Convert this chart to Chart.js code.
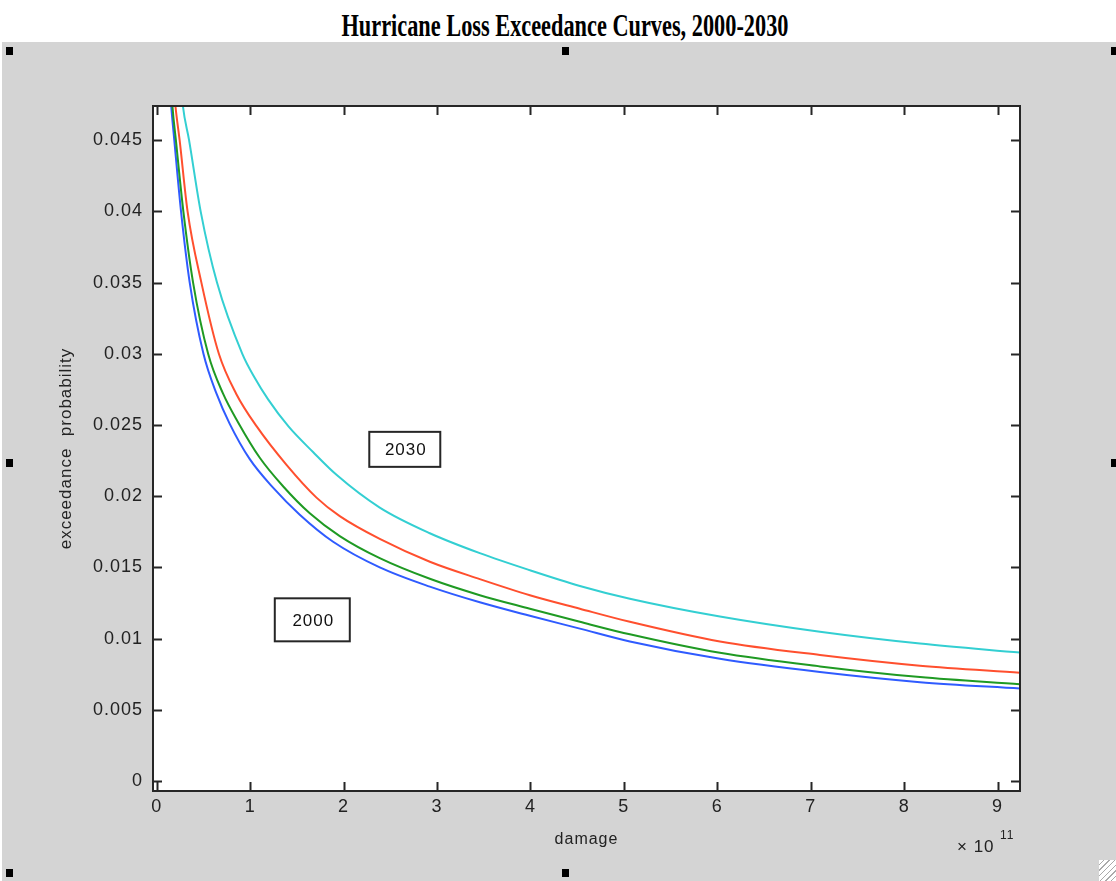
<!DOCTYPE html>
<html>
<head>
<meta charset="utf-8">
<script src="https://cdn.jsdelivr.net/npm/chart.js@4/dist/chart.umd.min.js"></script>
<style>
    html, body { margin: 0; padding: 0; background: #fff; }
    #wrap { position: relative; width: 1116px; height: 881px; overflow: hidden; }
    #panel { position: absolute; left: 2px; top: 42px; right: 0; bottom: 0; background: #d4d4d4; }
    #title { position: absolute; left: 0; top: 8px; width: 1116px; margin: 0; text-align: center;
             font: bold 31px "Liberation Serif", "Times New Roman", serif; color: #000;
             transform: translateX(7px) scaleX(0.72); }
    .handle { position: absolute; width: 7px; height: 8px; background: #000; }
    #grip { position: absolute; left: 1099px; top: 860px; width: 17px; height: 21px; background: #fff;
            background-image: repeating-linear-gradient(135deg, #fff 0 3px, #aaa 3px 4px); }
    canvas { position: absolute; left: 0; top: 0; }
</style>
</head>
<body>
<div id="wrap">
    <div id="panel"></div>
    <h1 id="title">Hurricane Loss Exceedance Curves, 2000-2030</h1>
    <div class="handle" style="left:6px;top:47px"></div>
    <div class="handle" style="left:562px;top:47px"></div>
    <div class="handle" style="left:1111px;top:47px"></div>
    <div class="handle" style="left:6px;top:459px"></div>
    <div class="handle" style="left:1111px;top:459px"></div>
    <div class="handle" style="left:6px;top:869px"></div>
    <div class="handle" style="left:562px;top:869px"></div>
    <div id="grip"></div>
    <canvas id="lossChart" width="1116" height="881"></canvas>
</div>
<script>
// tick labels
const xTicks = [0, 1, 2, 3, 4, 5, 6, 7, 8, 9];
const yTicks = [0, 0.005, 0.01, 0.015, 0.02, 0.025, 0.03, 0.035, 0.04, 0.045];

// damage (x 10^11) / exceedance probability
const dmg2000 = [0.12, 0.155, 0.188, 0.26, 0.353, 0.50, 0.64, 0.78, 0.996, 1.245, 1.531, 1.888, 2.387, 2.923, 3.458, 3.994, 4.529, 5.064, 6.028, 7.099, 8.169, 9.24];
const prob2000 = [0.051, 0.0474, 0.045, 0.040, 0.035, 0.030, 0.0272, 0.0251, 0.0226, 0.0206, 0.0187, 0.0168, 0.0150, 0.01365, 0.01255, 0.01160, 0.0107, 0.0098, 0.00858, 0.00765, 0.00694, 0.00649];

const dmg2010 = [0.12, 0.168, 0.205, 0.285, 0.389, 0.55, 0.71, 0.87, 1.103, 1.352, 1.638, 1.959, 2.387, 2.923, 3.458, 3.994, 4.529, 5.064, 6.028, 7.099, 8.169, 9.24];
const prob2010 = [0.053, 0.0474, 0.045, 0.040, 0.035, 0.030, 0.0272, 0.0252, 0.0227, 0.0207, 0.0188, 0.0172, 0.01565, 0.01420, 0.01305, 0.01210, 0.01118, 0.01030, 0.00900, 0.00805, 0.00730, 0.00679];

const dmg2020 = [0.14, 0.20, 0.245, 0.33, 0.478, 0.665, 0.85, 1.07, 1.389, 1.71, 1.959, 2.387, 2.923, 3.458, 3.994, 4.529, 5.064, 6.028, 7.099, 8.169, 9.24];
const prob2020 = [0.052, 0.0474, 0.045, 0.040, 0.035, 0.030, 0.0272, 0.0249, 0.0222, 0.0199, 0.0186, 0.0170, 0.01540, 0.01418, 0.01305, 0.01210, 0.01118, 0.00980, 0.00885, 0.00810, 0.00761];

const dmg2030 = [0.22, 0.28, 0.346, 0.47, 0.645, 0.916, 1.05, 1.192, 1.41, 1.673, 1.924, 2.387, 2.923, 3.458, 3.994, 4.529, 5.064, 6.028, 7.099, 8.169, 9.24];
const prob2030 = [0.052, 0.0474, 0.045, 0.040, 0.035, 0.030, 0.0283, 0.0268, 0.0249, 0.0231, 0.0215, 0.0192, 0.0174, 0.0160, 0.0148, 0.0137, 0.0128, 0.01155, 0.01048, 0.00965, 0.00902];

// text boxes placed in data coordinates
const boxLabels = ['2030', '2000'];
const boxDamage = [2.655, 1.665];
const boxProb = [0.02329, 0.01132];
const boxSize = [[71, 35], [75, 43]];

const toPoints = (xs, ys) => xs.map((x, i) => ({ x: x, y: ys[i] }));

const axisColor = '#262626';
const sans = "'Liberation Sans', Arial, sans-serif";
const tickFont = { family: sans, size: 18 };

const framePlugin = {
    id: 'frame',
    beforeDraw(chart) {
        const { ctx, chartArea: a } = chart;
        ctx.letterSpacing = '1px';
        ctx.save();
        ctx.fillStyle = '#fff';
        ctx.fillRect(a.left, a.top, a.right - a.left, a.bottom - a.top);
        ctx.restore();
    },
    afterDraw(chart) {
        const { ctx, chartArea: a, scales } = chart;
        ctx.save();
        ctx.strokeStyle = axisColor;
        ctx.lineWidth = 2;
        ctx.strokeRect(a.left, a.top, a.right - a.left, a.bottom - a.top);
        // inward ticks on all four sides
        ctx.beginPath();
        xTicks.forEach(v => {
            const px = Math.round(scales.x.getPixelForValue(v)) + 0.5;
            ctx.moveTo(px, a.bottom); ctx.lineTo(px, a.bottom - 9);
            ctx.moveTo(px, a.top); ctx.lineTo(px, a.top + 9);
        });
        yTicks.forEach(v => {
            const py = Math.round(scales.y.getPixelForValue(v)) + 0.5;
            ctx.moveTo(a.left, py); ctx.lineTo(a.left + 9, py);
            ctx.moveTo(a.right, py); ctx.lineTo(a.right - 9, py);
        });
        ctx.stroke();

        // labelled boxes
        ctx.font = '17px ' + sans;
        ctx.textAlign = 'center';
        ctx.textBaseline = 'middle';
        boxLabels.forEach((t, i) => {
            const cx = scales.x.getPixelForValue(boxDamage[i]);
            const cy = scales.y.getPixelForValue(boxProb[i]);
            const [w, h] = boxSize[i];
            ctx.fillStyle = '#fff';
            ctx.fillRect(cx - w / 2, cy - h / 2, w, h);
            ctx.strokeStyle = axisColor;
            ctx.lineWidth = 2;
            ctx.strokeRect(cx - w / 2, cy - h / 2, w, h);
            ctx.fillStyle = '#111';
            ctx.fillText(t, cx + 1, cy + 1);
        });

        // exponent note
        ctx.fillStyle = '#222';
        ctx.textAlign = 'left';
        ctx.textBaseline = 'alphabetic';
        ctx.font = '17px ' + sans;
        ctx.fillText('\u00d7 10', a.right - 63, a.bottom + 61);
        ctx.font = '12px ' + sans;
        ctx.fillText('11', a.right - 20, a.bottom + 48);
        ctx.restore();
    }
};

const makeSet = (label, xs, ys, color) => ({
    label: label,
    data: toPoints(xs, ys),
    borderColor: color,
    borderWidth: 2,
    pointRadius: 0,
    fill: false,
    cubicInterpolationMode: 'monotone'
});

new Chart(document.getElementById('lossChart'), {
    type: 'line',
    data: {
        datasets: [
            makeSet('2030', dmg2030, prob2030, '#33cfd2'),
            makeSet('2020', dmg2020, prob2020, '#ff4f2e'),
            makeSet('2010', dmg2010, prob2010, '#1f9a23'),
            makeSet('2000', dmg2000, prob2000, '#2f5bff')
        ]
    },
    options: {
        responsive: false,
        devicePixelRatio: 1,
        animation: false,
        layout: { padding: { top: 106, right: 96, left: 0, bottom: 0 } },
        plugins: { legend: { display: false }, tooltip: { enabled: false } },
        scales: {
            x: {
                type: 'linear',
                min: -0.04,
                max: 9.24,
                grid: { display: false, drawTicks: false },
                border: { display: false },
                afterBuildTicks: s => { s.ticks = xTicks.map(v => ({ value: v })); },
                afterFit: s => { s.height = 90; },
                ticks: { font: tickFont, color: '#222', padding: 5, autoSkip: false, maxRotation: 0, includeBounds: false,
                         callback: v => String(v) },
                title: { display: true, text: 'damage', color: '#222',
                         font: { family: sans, size: 16 },
                         padding: { top: 0, bottom: 32 } }
            },
            y: {
                type: 'linear',
                min: -0.0007,
                max: 0.0474,
                grid: { display: false, drawTicks: false },
                border: { display: false },
                afterBuildTicks: s => { s.ticks = yTicks.map(v => ({ value: v })); },
                afterFit: s => { s.width = 153; },
                ticks: { font: tickFont, color: '#222', padding: 10, autoSkip: false, includeBounds: false,
                         callback: v => String(v) },
                title: { display: true, text: 'exceedance  probability', color: '#222',
                         font: { family: sans, size: 17 },
                         padding: { top: 56, bottom: 0 } }
            }
        }
    },
    plugins: [framePlugin]
});
</script>
</body>
</html>
